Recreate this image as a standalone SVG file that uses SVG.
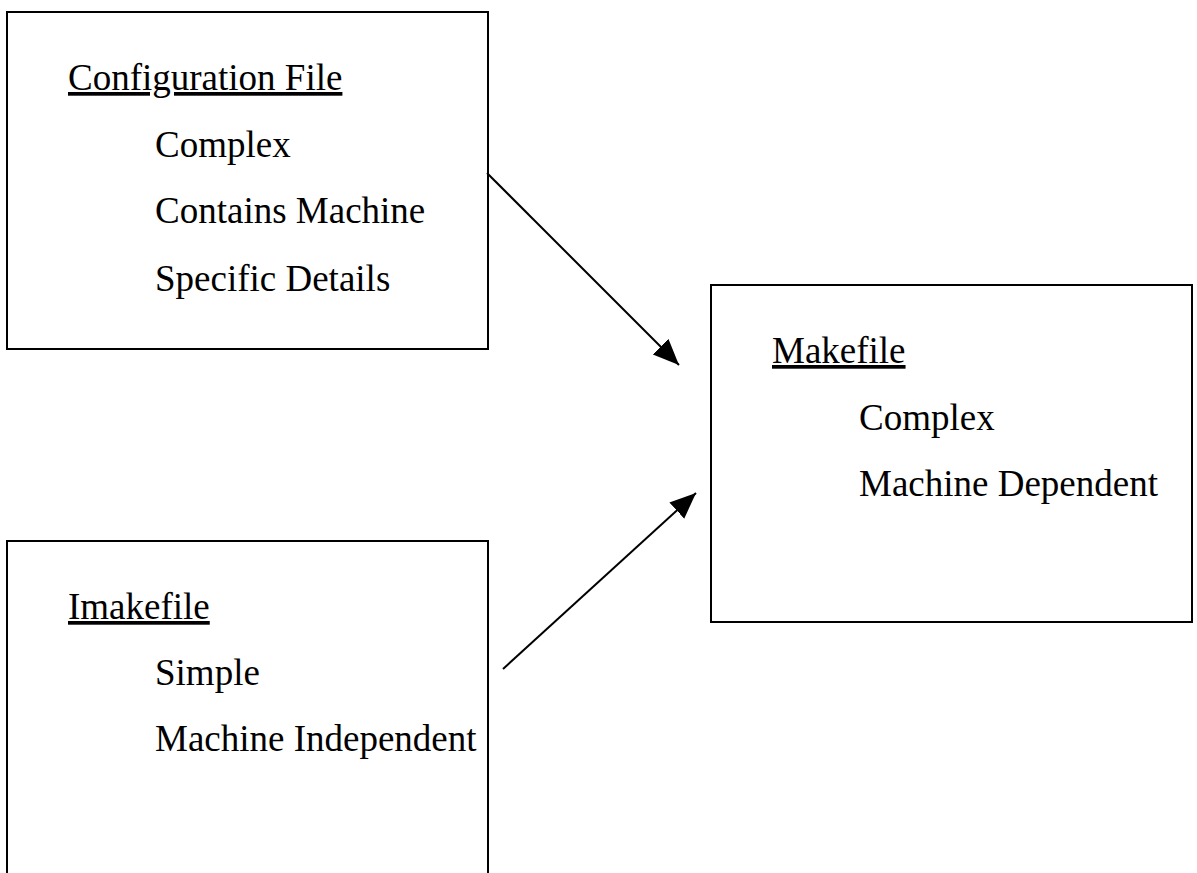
<svg xmlns="http://www.w3.org/2000/svg" width="1197" height="873" viewBox="0 0 1197 873">
<style>
.box{fill:#fff;stroke:#000;stroke-width:2}
.t{font-family:"Liberation Serif","Times New Roman",serif;font-size:37px;fill:#000}
.h{text-decoration:underline}
.c{stroke:#000;stroke-width:2;fill:none}
</style>
<defs>
<marker id="ah" markerUnits="userSpaceOnUse" markerWidth="28" markerHeight="24" refX="26" refY="11" orient="auto">
<path d="M0,0 L26,11 L0,22 Z" fill="#000"/>
</marker>
</defs>
<rect width="1197" height="873" fill="#fff"/>
<g id="config">
<rect class="box" x="7" y="12" width="481" height="337"/>
<text class="t h" x="68" y="90">Configuration File</text>
<text class="t" x="155" y="157">Complex</text>
<text class="t" x="155" y="223">Contains Machine</text>
<text class="t" x="155" y="291">Specific Details</text>
</g>
<g id="makefile">
<rect class="box" x="711" y="285" width="481" height="337"/>
<text class="t h" x="772" y="363">Makefile</text>
<text class="t" x="859" y="430">Complex</text>
<text class="t" x="859" y="496">Machine Dependent</text>
</g>
<g id="imakefile">
<rect class="box" x="7" y="541" width="481" height="345"/>
<text class="t h" x="68" y="619">Imakefile</text>
<text class="t" x="155" y="685">Simple</text>
<text class="t" x="155" y="751">Machine Independent</text>
</g>
<g id="connectors">
<line class="c" x1="487" y1="173" x2="679" y2="365" marker-end="url(#ah)"/>
<line class="c" x1="503" y1="669" x2="696" y2="493" marker-end="url(#ah)"/>
</g>
</svg>
